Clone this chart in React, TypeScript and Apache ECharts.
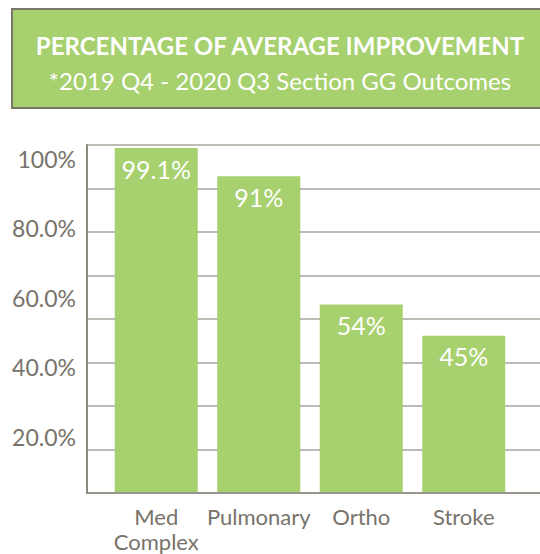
import React, { useEffect, useRef } from "react";
import * as echarts from "echarts";

const titleText = "PERCENTAGE OF AVERAGE IMPROVEMENT";
const subtitleText = "*2019 Q4 - 2020 Q3 Section GG Outcomes";
const categories = ["Med\nComplex", "Pulmonary", "Ortho", "Stroke"];
const values = [99.1, 91, 54, 45];
const valueLabels = ["99.1%", "91%", "54%", "45%"];
const yTickValues = [20, 40, 60, 80, 100];

const GREEN = "#a7d06e";
const GREY_TEXT = "#77736a";
const FONT = "Lato, 'Noto Sans', sans-serif";

export default function App() {
  const ref = useRef<HTMLDivElement>(null);
  useEffect(() => {
    if (!ref.current) return;
    const chart = echarts.init(ref.current, undefined, { renderer: "svg" });
    chart.setOption({
      animation: false,
      backgroundColor: "#ffffff",
      textStyle: { fontFamily: FONT },
      graphic: [
        {
          type: "rect",
          shape: { x: 12, y: 9, width: 540, height: 99 },
          style: { fill: GREEN, stroke: "#7b7668", lineWidth: 2 },
          z: 0,
        },
        {
          type: "text",
          x: 280,
          y: 45,
          style: {
            text: titleText,
            fill: "#ffffff",
            font: `bold 24px ${FONT}`,
            textAlign: "center",
            textVerticalAlign: "middle",
          },
          z: 1,
        },
        {
          type: "text",
          x: 280,
          y: 80,
          style: {
            text: subtitleText,
            fill: "#ffffff",
            font: `24px ${FONT}`,
            textAlign: "center",
            textVerticalAlign: "middle",
          },
          z: 1,
        },
      ],
      grid: [
        { left: 87, right: 0, top: 145, bottom: 61 },
        { left: 105, width: 410, top: 145, bottom: 61 },
      ],
      xAxis: [
        {
          gridIndex: 0,
          type: "category",
          data: categories,
          axisLine: { show: true, lineStyle: { color: "#8e897f", width: 1.5 } },
          axisTick: { show: false },
          axisLabel: { show: false },
        },
        {
          gridIndex: 1,
          type: "category",
          data: categories,
          axisLine: { show: false },
          axisTick: { show: false },
          axisLabel: {
            color: GREY_TEXT,
            fontSize: 22,
            fontFamily: FONT,
            margin: 12,
            lineHeight: 25,
            interval: 0,
          },
        },
      ],
      yAxis: [
        {
          gridIndex: 0,
          type: "value",
          min: 0,
          max: 100,
          interval: 12.5,
          axisLine: { show: true, lineStyle: { color: "#8e897f", width: 2 } },
          axisTick: { show: false },
          axisLabel: { show: false },
          splitLine: { show: true, lineStyle: { color: "#a8a39b", width: 1.5 } },
        },
        {
          gridIndex: 1,
          type: "value",
          min: 0,
          max: 100,
          axisLine: { show: false },
          axisTick: { show: false },
          splitLine: { show: false },
          axisLabel: {
            customValues: yTickValues,
            color: GREY_TEXT,
            fontSize: 23,
            fontFamily: FONT,
            margin: 29,
            verticalAlign: "top",
            lineHeight: 28,
            formatter: (v: number) => (v === 100 ? "100%" : v.toFixed(1) + "%"),
          },
        },
        {
          gridIndex: 0,
          type: "value",
          min: 0,
          max: 100,
          axisLine: { show: false },
          splitLine: { show: false },
          axisLabel: { show: false },
          axisTick: {
            show: true,
            customValues: [12.5],
            length: 7,
            lineStyle: { color: "#8e897f", width: 1.5 },
          },
        },
      ],
      series: [
        {
          type: "bar",
          xAxisIndex: 1,
          yAxisIndex: 1,
          data: values,
          barWidth: 83,
          itemStyle: { color: GREEN },
          label: {
            show: true,
            position: "insideTop",
            distance: 8,
            color: "#ffffff",
            fontSize: 25,
            fontFamily: FONT,
            formatter: (p: any) => valueLabels[p.dataIndex],
          },
          z: 3,
        },
      ],
    });
    return () => chart.dispose();
  }, []);
  return (
    <div
      ref={ref}
      style={{ position: "absolute", left: 0, top: 0, width: 540, height: 554 }}
    />
  );
}
